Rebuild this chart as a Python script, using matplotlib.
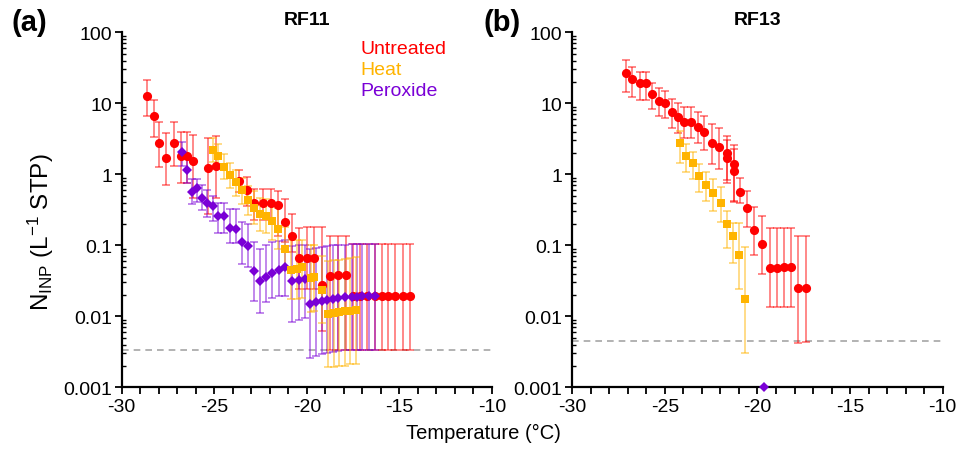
import numpy as np
import matplotlib
matplotlib.use("Agg")
import matplotlib.pyplot as plt
from matplotlib.ticker import FixedLocator, FuncFormatter, MultipleLocator

plt.rcParams['font.family'] = ['Liberation Sans', 'DejaVu Sans']
plt.rcParams['mathtext.fontset'] = 'custom'
plt.rcParams['mathtext.rm'] = 'Liberation Sans'
plt.rcParams['mathtext.it'] = 'Liberation Sans'
plt.rcParams['axes.unicode_minus'] = False

# ---- RF11 (a) ----
a_unt_T = [-28.65, -28.25, -27.97, -27.6, -27.2, -26.8, -26.49, -26.13, -25.32, -24.92,
           -23.64, -23.24, -22.83, -22.35, -21.95, -21.54, -21.16, -20.81, -20.42, -20.0,
           -19.6, -19.16, -18.74, -18.3, -17.88, -17.49, -17.13, -16.77, -16.32, -15.96,
           -15.6, -15.24, -14.83, -14.41]
a_unt_N = [12.6, 6.56, 2.76, 1.70, 2.76, 1.83, 1.80, 1.56, 1.23, 1.30,
           0.80, 0.60, 0.40, 0.39, 0.40, 0.37, 0.21, 0.134, 0.066, 0.067,
           0.067, 0.0276, 0.037, 0.038, 0.038, 0.0191, 0.0191, 0.0191, 0.0191, 0.0191,
           0.0191, 0.0191, 0.0191, 0.0191]
a_unt_lo = [6.6, 3.3, 1.26, 0.71, 1.29, 0.75, 0.75, 0.46, 0.28, 0.47,
            0.56, 0.36, 0.23, 0.23, 0.23, 0.134, 0.11, 0.08, 0.024, 0.024,
            0.024, 0.0062, 0.0034, 0.0034, 0.0034, 0.0034, 0.0034, 0.0034, 0.0034, 0.0034,
            0.0034, 0.0034, 0.0034, 0.0034]
a_unt_hi = [21, 11.2, 5.5, 3.77, 5.5, 4.0, 4.0, 3.6, 3.2, 3.43,
            1.16, 0.91, 0.62, 0.62, 0.62, 0.59, 0.45, 0.28, 0.178, 0.18,
            0.18, 0.183, 0.134, 0.134, 0.134, 0.104, 0.104, 0.104, 0.104, 0.104,
            0.104, 0.104, 0.104, 0.104]

a_heat_T = [-25.08, -24.78, -24.47, -24.15, -23.82, -23.51, -23.19, -22.85, -22.52, -22.22,
            -21.88, -21.54, -21.17, -20.85, -20.55, -20.25, -19.8, -19.6, -19.2,
            -18.85, -18.55, -18.25, -17.95, -17.65, -17.35]
a_heat_N = [2.22, 1.83, 1.26, 0.99, 0.77, 0.61, 0.44, 0.34, 0.276, 0.256,
            0.222, 0.17, 0.089, 0.045, 0.047, 0.050, 0.035, 0.036, 0.0237,
            0.0108, 0.0111, 0.0114, 0.0117, 0.0120, 0.0123]
a_heat_lo = [1.5, 1.2, 0.85, 0.64, 0.5, 0.38, 0.27, 0.2, 0.16, 0.15,
             0.12, 0.09, 0.045, 0.0175, 0.0175, 0.018, 0.0116, 0.012, 0.008,
             0.0019, 0.0019, 0.002, 0.002, 0.0021, 0.0021]
a_heat_hi = [3.2, 2.7, 1.9, 1.44, 1.15, 0.9, 0.68, 0.59, 0.47, 0.45,
             0.40, 0.33, 0.18, 0.12, 0.12, 0.12, 0.10, 0.10, 0.07,
             0.0605, 0.062, 0.063, 0.065, 0.066, 0.0675]

a_per_T = [-26.76, -26.49, -26.22, -25.91, -25.68, -25.37, -25.05, -24.78, -24.47, -24.15,
           -23.84, -23.51, -23.19, -22.85, -22.52, -22.2, -21.86, -21.51, -21.17, -20.81,
           -20.42, -20.09, -19.82, -19.51, -19.19, -18.89, -18.6, -18.3, -17.93, -17.57,
           -17.27, -17.0, -16.67, -16.3]
a_per_N = [2.04, 1.16, 0.57, 0.64, 0.47, 0.39, 0.355, 0.256, 0.256, 0.173,
           0.17, 0.110, 0.099, 0.043, 0.031, 0.036, 0.041, 0.045, 0.049, 0.031,
           0.032, 0.033, 0.0149, 0.0159, 0.0166, 0.0171, 0.0178, 0.0182, 0.0185, 0.0187,
           0.0188, 0.019, 0.019, 0.019]
a_per_lo = [1.3, 0.75, 0.38, 0.41, 0.315, 0.25, 0.22, 0.15, 0.15, 0.107,
            0.107, 0.055, 0.049, 0.0166, 0.011, 0.016, 0.018, 0.019, 0.0195, 0.0084,
            0.009, 0.0095, 0.0026, 0.0028, 0.0029, 0.003, 0.0031, 0.0032, 0.0033, 0.0034,
            0.0034, 0.0034, 0.0034, 0.0034]
a_per_hi = [2.86, 1.8, 0.87, 0.87, 0.71, 0.6, 0.5, 0.4, 0.4, 0.32,
            0.32, 0.21, 0.2, 0.11, 0.089, 0.1, 0.11, 0.115, 0.12, 0.099,
            0.1, 0.1, 0.09, 0.093, 0.096, 0.098, 0.1, 0.101, 0.102, 0.103,
            0.104, 0.104, 0.104, 0.104]

# ---- RF13 (b) ----
b_unt_T = [-27.1, -26.76, -26.34, -26.02, -25.71, -25.33, -24.98, -24.6, -24.29, -23.95,
           -23.59, -23.23, -22.87, -22.47, -22.06, -21.66, -21.66, -21.27, -21.27, -20.94,
           -20.55, -20.17, -19.76, -19.33, -18.93, -18.57, -18.21, -17.8, -17.38]
b_unt_N = [27.0, 21.8, 19.1, 19.1, 13.4, 10.9, 10.0, 7.64, 6.5, 5.53,
           5.53, 4.7, 3.91, 2.74, 2.40, 1.98, 1.72, 1.38, 1.11, 0.57,
           0.34, 0.164, 0.103, 0.0485, 0.0485, 0.0496, 0.0496, 0.0248, 0.0248]
b_unt_lo = [14.6, 12.2, 11.1, 11.1, 8.2, 6.7, 6.15, 4.55, 3.78, 3.2,
            3.2, 2.74, 2.2, 1.38, 1.19, 0.83, 0.75, 0.41, 0.42, 0.40,
            0.183, 0.072, 0.039, 0.0133, 0.0135, 0.0135, 0.0136, 0.0042, 0.0043]
b_unt_hi = [40.8, 32, 27.9, 27.9, 19.5, 16.2, 14.9, 11.5, 10.2, 8.8,
            8.8, 7.6, 6.6, 5.06, 4.55, 3.5, 3.0, 2.59, 2.3, 0.9,
            0.58, 0.346, 0.262, 0.173, 0.173, 0.176, 0.176, 0.137, 0.137]

b_heat_T = [-24.18, -23.86, -23.47, -23.16, -22.8, -22.39, -21.99, -21.63, -21.31, -20.98, -20.67]
b_heat_N = [2.74, 1.83, 1.43, 0.95, 0.71, 0.54, 0.40, 0.20, 0.133, 0.073, 0.0175]
b_heat_lo = [1.43, 1.07, 0.86, 0.57, 0.42, 0.30, 0.215, 0.091, 0.056, 0.0242, 0.0030]
b_heat_hi = [4.07, 2.65, 2.04, 1.38, 1.09, 0.86, 0.67, 0.30, 0.209, 0.204, 0.094]

b_per_T = [-19.63]
b_per_N = [0.001]

# detection limits
a_limit = 0.00335
b_limit = 0.00449

red = '#ff0000'
orange = '#ffb400'
purple = '#7a00d6'


def draw(ax, T, N, lo, hi, color, marker, ms):
    N = np.array(N)
    yerr = [N - np.array(lo), np.array(hi) - N]
    ax.errorbar(T, N, yerr=yerr, fmt='none', ecolor=color, alpha=0.5,
                elinewidth=1.3, capsize=3.2, capthick=1.3, zorder=2)
    ax.plot(T, N, linestyle='none', marker=marker, color=color, ms=ms,
            markeredgewidth=0, zorder=3)


fig = plt.figure(figsize=(9.67, 4.56), dpi=100)
ax_a = fig.add_axes([0.1259, 0.1485, 0.3829, 0.7785])
ax_b = fig.add_axes([0.5918, 0.1485, 0.3831, 0.7785])

draw(ax_a, a_unt_T, a_unt_N, a_unt_lo, a_unt_hi, red, 'o', 6.6)
draw(ax_a, a_per_T, a_per_N, a_per_lo, a_per_hi, purple, 'D', 5.3)
draw(ax_a, a_heat_T, a_heat_N, a_heat_lo, a_heat_hi, orange, 's', 6.4)
ax_a.axhline(a_limit, color='#a6a6a6', ls=(0, (4, 3)), lw=1.2, zorder=1)

draw(ax_b, b_unt_T, b_unt_N, b_unt_lo, b_unt_hi, red, 'o', 6.6)
draw(ax_b, b_heat_T, b_heat_N, b_heat_lo, b_heat_hi, orange, 's', 6.2)
ax_b.plot(b_per_T, b_per_N, linestyle='none', marker='D', color=purple, ms=5,
          markeredgewidth=0, clip_on=False, zorder=5)
ax_b.axhline(b_limit, color='#a6a6a6', ls=(0, (4, 3)), lw=1.2, zorder=1)

for ax, title in [(ax_a, 'RF11'), (ax_b, 'RF13')]:
    ax.set_yscale('log')
    ax.set_ylim(0.001, 100)
    ax.set_xlim(-30, -10)
    ax.spines['top'].set_visible(False)
    ax.spines['right'].set_visible(False)
    ax.spines['left'].set_linewidth(1.6)
    ax.spines['bottom'].set_linewidth(1.6)
    ax.xaxis.set_major_locator(MultipleLocator(5))
    ax.xaxis.set_minor_locator(MultipleLocator(1))
    ax.yaxis.set_major_locator(FixedLocator([0.001, 0.01, 0.1, 1, 10, 100]))
    ax.yaxis.set_major_formatter(FuncFormatter(lambda v, p: '%g' % v))
    ax.tick_params(axis='x', which='both', direction='out', length=5, width=1.3,
                   labelsize=14, pad=3)
    ax.tick_params(axis='y', which='major', direction='out', length=5, width=1.3,
                   labelsize=14, pad=2)
    ax.tick_params(axis='y', which='minor', direction='in', length=3, width=1.0)
    ax.set_title(title, fontsize=14, fontweight='bold', pad=6)

ax_a.text(0.645, 0.955, 'Untreated', color=red, fontsize=14, transform=ax_a.transAxes,
          ha='left', va='center')
ax_a.text(0.645, 0.895, 'Heat', color=orange, fontsize=14, transform=ax_a.transAxes,
          ha='left', va='center')
ax_a.text(0.645, 0.835, 'Peroxide', color=purple, fontsize=14, transform=ax_a.transAxes,
          ha='left', va='center')

fig.text(0.012, 0.95, '(a)', fontsize=21, fontweight='bold', ha='left', va='center')
fig.text(0.5, 0.95, '(b)', fontsize=21, fontweight='bold', ha='left', va='center')

fig.text(0.042, 0.49, r'N$_{\mathrm{INP}}$ (L$^{-1}$ STP)', fontsize=17.5, rotation=90,
         ha='center', va='center')
fig.text(0.5, 0.05, 'Temperature (°C)', fontsize=14.5, ha='center', va='center')

fig.savefig('out.png', dpi=100)
